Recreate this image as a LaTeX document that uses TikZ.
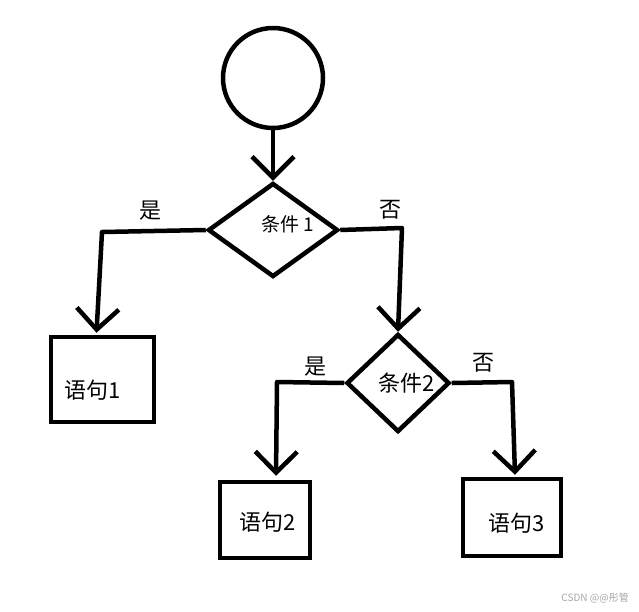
\documentclass[tikz,border=0pt]{standalone}
\usepackage{fontspec}
\setmainfont{Noto Sans CJK SC}
\usetikzlibrary{shapes.geometric,arrows.meta}
\tikzset{
  line/.style={line width=4.5pt, line join=round},
  arr/.style={line, -{Straight Barb[length=21pt,width=42pt]}},
  startc/.style={circle, draw, line width=4.5pt, minimum size=100pt, inner sep=0pt},
  cond/.style={diamond, draw, line width=4.5pt, inner sep=0pt},
  stmt/.style={rectangle, draw, line width=4.5pt, inner sep=0pt},
  txt/.style={font=\fontsize{22}{26}\selectfont, inner sep=0pt},
  small/.style={font=\fontsize{19}{23}\selectfont, inner sep=0pt},
  wmark/.style={font=\fontsize{10}{12}\selectfont, text=black!35, inner sep=0pt}
}
\begin{document}
\begin{tikzpicture}[x=1pt,y=-1pt]
\useasboundingbox (0,0) rectangle (639,611);
% nodes
\node[startc] (start) at (273,78) {};
\node[cond, minimum width=130pt, minimum height=94pt] (c1) at (273,230) {};
\node[small] (c1t) at (288,224) {条件 1};
\node[cond, minimum width=103pt, minimum height=98pt] (c2) at (398,383) {};
\node[txt] (c2t) at (407,383) {条件2};
\node[stmt, minimum width=103pt, minimum height=85pt] (s1) at (102.5,379.5) {};
\node[txt] (s1t) at (93,390) {语句1};
\node[stmt, minimum width=90pt, minimum height=76pt] (s2) at (265,520) {};
\node[txt] (s2t) at (268,522) {语句2};
\node[stmt, minimum width=98pt, minimum height=77pt] (s3) at (512,517.5) {};
\node[txt] (s3t) at (517,523) {语句3};
% labels
\node[txt] (y1) at (150,211) {是};
\node[txt] (n1) at (390,210) {否};
\node[txt] (y2) at (315,367) {是};
\node[txt] (n2) at (483,363) {否};
\node[wmark, anchor=east] (wm) at (629,598) {CSDN @@彤管};
% corners
\coordinate (k1) at (102,232);
\coordinate (k2) at (402,228);
\coordinate (k3) at (277,382);
\coordinate (k4) at (512,382);
% connectors
\draw[arr] (start.south) -- (c1.north);
\draw[arr] (c1.west) -- (k1) -- ([xshift=-6pt,yshift=2pt]s1.north);
\draw[arr] (c1.east) -- (k2) -- (c2.north);
\draw[arr] (c2.west) -- (k3) -- ([xshift=11pt,yshift=4pt]s2.north);
\draw[arr] (c2.east) -- (k4) -- ([xshift=3pt,yshift=2pt]s3.north);
\end{tikzpicture}
\end{document}
